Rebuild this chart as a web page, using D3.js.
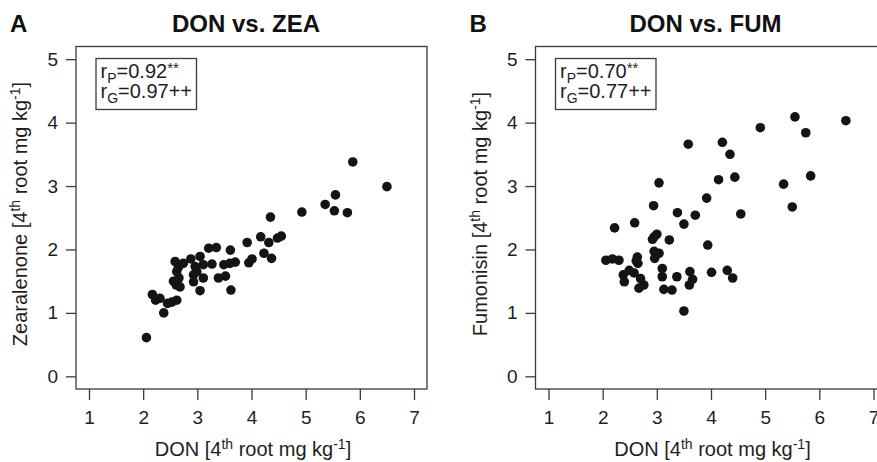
<!DOCTYPE html>
<html>
<head>
<meta charset="UTF-8" />
<style>
  body { margin: 0; background: #fff; }
  svg { display: block; font-family: "Liberation Sans", Arial, sans-serif; }
  .box { fill: none; stroke: #3a3a3a; stroke-width: 1.3px; }
  .tick line { stroke: #3a3a3a; stroke-width: 1.3px; }
  .tick text { fill: #1e1e1e; font-size: 19px; }
  .dot { fill: #141414; }
  .lab { fill: #1e1e1e; font-size: 20px; }
  .main { fill: #111; font-size: 24px; font-weight: bold; }
  .leg { fill: #1e1e1e; font-size: 20px; }
</style>
<script src="https://d3js.org/d3.v7.min.js"></script>
</head>
<body>
<svg width="877" height="462"></svg>
<script>
// panel A: DON vs ZEA
var donA = [2.06, 2.17, 2.23, 2.31, 2.38, 2.45, 2.53, 2.62, 2.56, 2.61, 2.68, 2.60, 2.62, 2.59, 2.65,
  2.74, 2.88, 2.93, 2.96, 2.99, 3.05, 3.05, 3.11, 3.11, 3.21, 3.27, 3.35, 3.39, 3.52, 3.49, 3.60,
  3.61, 3.62, 3.70, 3.92, 3.95, 4.01, 4.17, 4.23, 4.32, 4.35, 4.37, 4.48, 4.55, 4.93, 5.36, 5.53,
  5.55, 5.77, 5.87, 6.50, 2.93, 2.66];
var zea = [0.61, 1.29, 1.20, 1.23, 1.00, 1.15, 1.17, 1.20, 1.50, 1.44, 1.41, 1.47, 1.65, 1.81, 1.72,
  1.78, 1.85, 1.49, 1.73, 1.65, 1.35, 1.89, 1.55, 1.76, 2.02, 1.77, 2.03, 1.55, 1.58, 1.76, 1.78,
  1.99, 1.36, 1.80, 2.11, 1.79, 1.85, 2.20, 1.94, 2.11, 2.51, 1.86, 2.18, 2.21, 2.59, 2.71, 2.61,
  2.86, 2.58, 3.38, 2.99, 1.60, 1.55];

// panel B: DON vs FUM
var donB = [5.55, 6.49, 4.91, 5.75, 3.58, 4.21, 4.35, 5.84, 4.14, 4.44, 5.34, 3.04, 5.50, 2.94, 3.92,
  3.38, 3.71, 4.55, 3.50, 2.59, 2.22, 3.00, 2.92, 3.23, 3.94, 2.95, 3.04, 2.96, 2.06, 2.18, 2.30,
  2.64, 2.65, 3.10, 3.10, 3.37, 3.61, 3.66, 3.60, 4.01, 4.30, 4.40, 2.38, 2.40, 2.49, 2.58, 2.70,
  2.67, 2.76, 3.13, 3.28, 3.50, 2.95, 2.62];
var fum = [4.09, 4.03, 3.92, 3.84, 3.66, 3.69, 3.50, 3.16, 3.10, 3.14, 3.03, 3.05, 2.67, 2.69, 2.81,
  2.58, 2.54, 2.56, 2.40, 2.42, 2.34, 2.24, 2.16, 2.15, 2.07, 1.97, 1.94, 1.86, 1.83, 1.85, 1.83,
  1.88, 1.78, 1.70, 1.57, 1.57, 1.65, 1.53, 1.44, 1.64, 1.67, 1.55, 1.60, 1.49, 1.67, 1.63, 1.54,
  1.39, 1.44, 1.37, 1.36, 1.03, 2.20, 1.82];

var xTicks = [1, 2, 3, 4, 5, 6, 7];
var yTicks = [0, 1, 2, 3, 4, 5];
var panelLetters = ["A", "B"];
var panelTitles = ["DON vs. ZEA", "DON vs. FUM"];
var yTitles = ["Zearalenone", "Fumonisin"];
var rP = ["0.92", "0.70"];
var rG = ["0.97", "0.77"];

var svg = d3.select("svg");
svg.append("rect").attr("width", 877).attr("height", 462).attr("fill", "#fff");

function drawPanel(i, xs, ys) {
  var off = i * 459.5;
  var g = svg.append("g").attr("transform", "translate(" + off + ",0)");

  var x = d3.scaleLinear().domain([0.76, 7.24]).range([76, 427]);
  var y = d3.scaleLinear().domain([-0.2, 5.2]).range([389, 46.5]);

  g.append("g")
    .attr("transform", "translate(0,389)")
    .call(d3.axisBottom(x).tickValues(xTicks).tickFormat(d3.format("d")).tickSize(11).tickPadding(11))
    .call((a) => a.select(".domain").remove());

  g.append("g")
    .attr("transform", "translate(76,0)")
    .call(d3.axisLeft(y).tickValues(yTicks).tickFormat(d3.format("d")).tickSize(10).tickPadding(8))
    .call((a) => a.select(".domain").remove());

  g.selectAll(".tick text").attr("font-family", null).attr("font-size", null);

  g.append("rect")
    .attr("class", "box")
    .attr("x", 76).attr("y", 46.5)
    .attr("width", 351).attr("height", 342.5);

  g.selectAll("circle")
    .data(xs.map((d, k) => [d, ys[k]]))
    .enter()
    .append("circle")
    .attr("class", "dot")
    .attr("cx", (d) => x(d[0]))
    .attr("cy", (d) => y(d[1]))
    .attr("r", 4.8);

  // legend box
  g.append("rect")
    .attr("class", "box")
    .attr("x", 96).attr("y", 58.5)
    .attr("width", 100.5).attr("height", 51);

  var l1 = g.append("text").attr("class", "leg").attr("x", 100.5).attr("y", 78);
  l1.append("tspan").text("r");
  l1.append("tspan").attr("font-size", "14px").attr("dy", 5).text("P");
  l1.append("tspan").attr("dy", -5).text("=" + rP[i]);
  l1.append("tspan").attr("font-size", "15px").attr("dy", -5).text("**");

  var l2 = g.append("text").attr("class", "leg").attr("x", 100.5).attr("y", 98);
  l2.append("tspan").text("r");
  l2.append("tspan").attr("font-size", "14px").attr("dy", 5).text("G");
  l2.append("tspan").attr("dy", -5).text("=" + rG[i] + "++");

  // titles
  g.append("text").attr("class", "main").attr("x", 10).attr("y", 32).text(panelLetters[i]);
  g.append("text").attr("class", "main").attr("x", 246).attr("y", 32)
    .attr("text-anchor", "middle").text(panelTitles[i]);

  var xl = g.append("text").attr("class", "lab").attr("x", 253).attr("y", 456)
    .attr("text-anchor", "middle");
  xl.append("tspan").text("DON [4");
  xl.append("tspan").attr("font-size", "14px").attr("dy", -7).text("th");
  xl.append("tspan").attr("dy", 7).text(" root mg kg");
  xl.append("tspan").attr("font-size", "14px").attr("dy", -7).text("-1");
  xl.append("tspan").attr("dy", 7).text("]");

  var yl = g.append("text").attr("class", "lab")
    .attr("transform", "translate(27,214) rotate(-90)")
    .attr("text-anchor", "middle");
  yl.append("tspan").text(yTitles[i] + " [4");
  yl.append("tspan").attr("font-size", "14px").attr("dy", -7).text("th");
  yl.append("tspan").attr("dy", 7).text(" root mg kg");
  yl.append("tspan").attr("font-size", "14px").attr("dy", -7).text("-1");
  yl.append("tspan").attr("dy", 7).text("]");
}

drawPanel(0, donA, zea);
drawPanel(1, donB, fum);
</script>
</body>
</html>
